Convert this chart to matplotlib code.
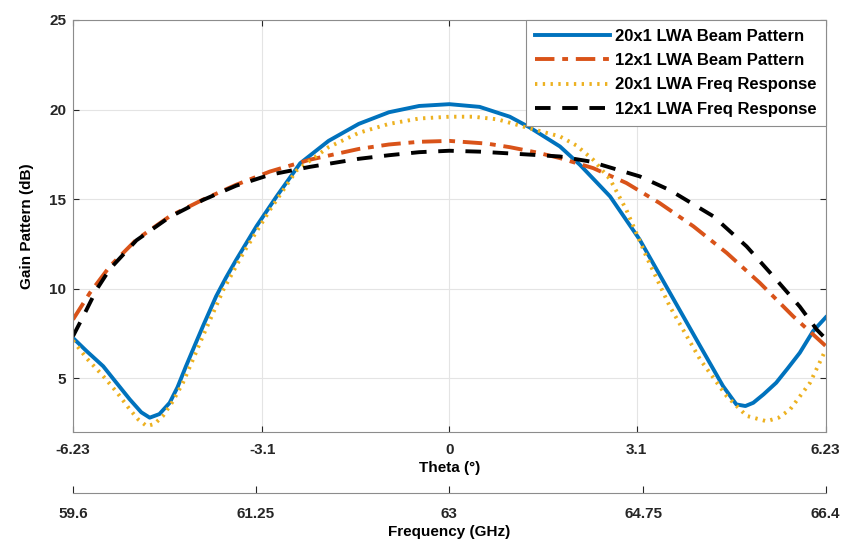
import numpy as np
import matplotlib.pyplot as plt

plt.rcParams['font.family'] = ['Liberation Sans', 'DejaVu Sans']
plt.rcParams['font.weight'] = 'bold'

# gain curves, theta in degrees, gain in dB
theta_b20 = [-6.23, -6.0, -5.73, -5.5, -5.29, -5.1, -4.96, -4.8, -4.63, -4.5, -4.36, -4.2, -4.08,
             -3.86, -3.7, -3.53, -3.19, -2.86, -2.47, -2.0, -1.5, -1.0, -0.5, 0.0, 0.5, 1.0,
             1.33, 1.83, 2.16, 2.66, 3.15, 3.65, 4.15, 4.53, 4.75, 4.9, 5.03, 5.2, 5.41, 5.6,
             5.8, 6.02, 6.23]
gain_b20 = [7.25, 6.5, 5.67, 4.7, 3.82, 3.1, 2.8, 3.0, 3.63, 4.5, 5.67, 6.95, 7.9,
            9.58, 10.6, 11.6, 13.5, 15.15, 17.0, 18.25, 19.2, 19.85, 20.2, 20.3, 20.15, 19.6,
            19.0, 17.94, 16.92, 15.15, 12.74, 9.77, 6.8, 4.56, 3.54, 3.45, 3.63, 4.1, 4.75, 5.55,
            6.42, 7.63, 8.4]

theta_b12 = [-6.23, -5.95, -5.62, -5.18, -4.63, -4.08, -3.53, -2.97, -2.31, -1.5, -1.0, -0.5,
             0.0, 0.62, 1.0, 1.45, 1.83, 2.38, 2.93, 3.48, 4.04, 4.59, 5.14, 5.69, 6.23]
gain_b12 = [8.28, 9.77, 11.25, 12.74, 14.04, 14.97, 15.8, 16.54, 17.2, 17.8, 18.05, 18.2,
            18.25, 18.1, 17.9, 17.6, 17.29, 16.73, 15.9, 14.78, 13.48, 12.0, 10.32, 8.46, 6.8]

theta_f20 = [-6.23, -6.0, -5.73, -5.5, -5.29, -5.15, -5.01, -4.88, -4.74, -4.58, -4.41, -4.25,
             -4.08, -3.74, -3.41, -2.97, -2.53, -2.0, -1.5, -1.0, -0.5, 0.0, 0.4, 0.8, 1.33,
             1.83, 2.1, 2.38, 2.66, 2.93, 3.26, 3.65, 4.15, 4.59, 4.92, 5.25, 5.45, 5.64, 5.97,
             6.23]
gain_f20 = [7.1, 6.1, 5.12, 4.2, 3.26, 2.7, 2.33, 2.45, 2.9, 3.7, 4.75, 6.0,
            7.35, 9.95, 12.0, 14.4, 16.6, 17.9, 18.7, 19.2, 19.5, 19.6, 19.6, 19.45, 18.95,
            18.5, 18.0, 17.2, 16.1, 14.4, 11.8, 9.0, 6.05, 4.0, 2.9, 2.6, 2.8, 3.26, 4.75,
            6.6]

theta_f12 = [-6.23, -6.06, -5.84, -5.62, -5.18, -4.63, -4.08, -3.53, -2.97, -2.31, -1.5, -1.0,
             -0.5, 0.0, 0.5, 1.0, 1.5, 1.83, 2.33, 3.15, 3.65, 4.37, 4.92, 5.36, 5.8, 6.08, 6.23]
gain_f12 = [7.35, 8.46, 9.95, 11.1, 12.7, 14.0, 14.95, 15.75, 16.36, 16.8, 17.25, 17.45,
            17.62, 17.7, 17.65, 17.55, 17.45, 17.38, 17.1, 16.27, 15.5, 14.04, 12.36, 10.7, 9.0, 7.72, 7.2]

theta_ticks = [-6.23, -3.1, 0, 3.1, 6.23]
freq_ticks = [59.6, 61.25, 63, 64.75, 66.4]

fig = plt.figure(figsize=(8.42, 5.40), dpi=100)
ax = fig.add_axes([0.0867, 0.2, 0.894, 0.763])

ax.plot(theta_b20, gain_b20, color='#0072BD', lw=2.8, label='20x1 LWA Beam Pattern')
ax.plot(theta_b12, gain_b12, color='#D95319', lw=2.8, dashes=(5, 2, 1.5, 2), label='12x1 LWA Beam Pattern')
ax.plot(theta_f20, gain_f20, color='#EDB120', lw=2.8, ls=(0, (0.6, 1.4)), label='20x1 LWA Freq Response')
ax.plot(theta_f12, gain_f12, color='black', lw=2.8, dashes=(4, 3), label='12x1 LWA Freq Response')

ax.set_xlim(-6.23, 6.23)
ax.set_ylim(2, 25)
ax.set_xticks(theta_ticks)
ax.set_xticklabels(['-6.23', '-3.1', '0', '3.1', '6.23'])
ax.set_yticks([5, 10, 15, 20, 25])
ax.grid(True, color='#e4e4e4', lw=0.8)
ax.tick_params(direction='in', top=True, right=True, labelsize=11, colors='#262626', length=4)
ax.tick_params(axis='x', pad=8)
ax.tick_params(axis='y', pad=5)
for s in ax.spines.values():
    s.set_color('#8c8c8c')
ax.set_xlabel('Theta (°)', fontsize=11, fontweight='bold', labelpad=3)
ax.set_ylabel('Gain Pattern (dB)', fontsize=11, fontweight='bold', labelpad=11)

leg = ax.legend(loc='upper right', fontsize=12, handlelength=4.5, borderaxespad=0,
                fancybox=False, edgecolor='#8c8c8c', framealpha=1, borderpad=0.55,
                labelspacing=0.55, handletextpad=0.3)
leg.get_frame().set_linewidth(0.8)

# frequency scale under the angle scale
th2f = lambda t: 63 + np.asarray(t) * 3.4 / 6.23
f2th = lambda f: (np.asarray(f) - 63) * 6.23 / 3.4
sec = ax.secondary_xaxis(-0.148, functions=(th2f, f2th))
sec.set_xticks(freq_ticks)
sec.set_xticklabels(['59.6', '61.25', '63', '64.75', '66.4'])
sec.spines['bottom'].set_color('#8c8c8c')
sec.tick_params(direction='in', length=5, labelsize=11, colors='#262626', pad=10)
sec.set_xlabel('Frequency (GHz)', fontsize=11, fontweight='bold', labelpad=3)

fig.savefig('out.png', dpi=100)
